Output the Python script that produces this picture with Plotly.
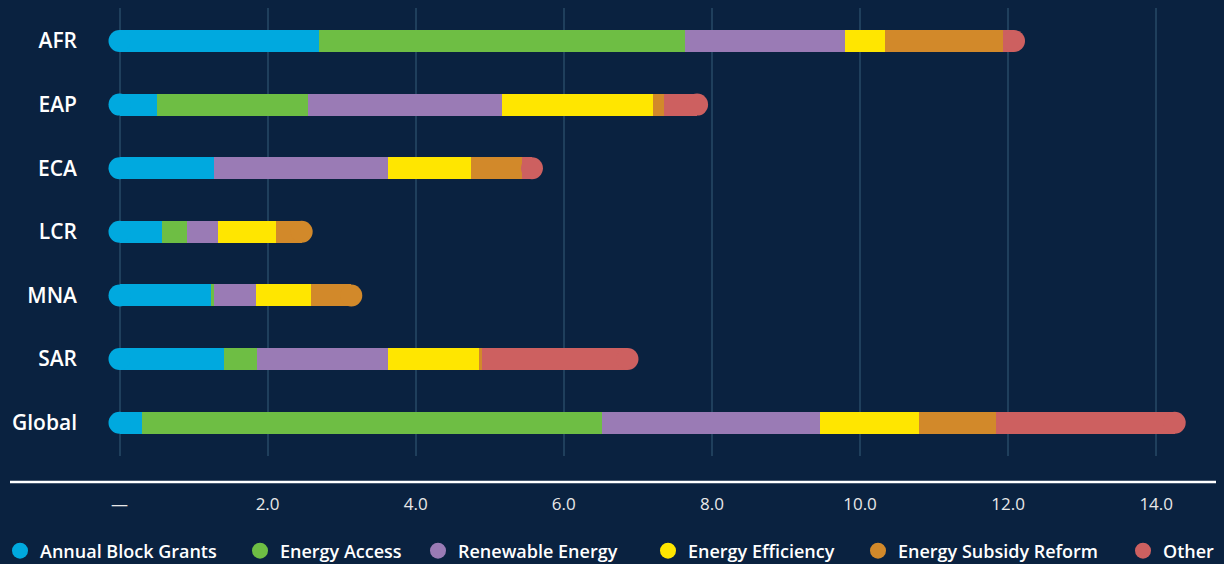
import plotly.graph_objects as go

regions = ["AFR", "EAP", "ECA", "LCR", "MNA", "SAR", "Global"]
series_names = ["Annual Block Grants", "Energy Access", "Renewable Energy",
                "Energy Efficiency", "Energy Subsidy Reform", "Other"]
annual_block_grants = [2.69, 0.50, 1.28, 0.57, 1.24, 1.41, 0.31]
energy_access = [4.94, 2.04, 0.00, 0.34, 0.04, 0.45, 6.21]
renewable_energy = [2.17, 2.63, 2.34, 0.42, 0.56, 1.77, 2.94]
energy_efficiency = [0.54, 2.03, 1.12, 0.79, 0.75, 1.22, 1.34]
energy_subsidy_reform = [1.59, 0.15, 0.69, 0.34, 0.54, 0.05, 1.03]
other = [0.15, 0.45, 0.14, 0.00, 0.00, 1.96, 2.42]
tick_values = [0, 2, 4, 6, 8, 10, 12, 14]
tick_labels = ["—", "2.0", "4.0", "6.0", "8.0", "10.0", "12.0", "14.0"]

colors = ["#00A9DF", "#6EBE44", "#9A7BB5", "#FFE600", "#D2892A", "#CD6060"]
series = [annual_block_grants, energy_access, renewable_energy,
          energy_efficiency, energy_subsidy_reform, other]

BG = "#0A2240"
GRID = "#1F3F5C"
FONT = "Open Sans"
BAR_PX = 22

fig = go.Figure()
for name, vals, col in zip(series_names, series, colors):
    fig.add_trace(go.Bar(
        y=regions, x=vals, orientation="h", name=name,
        marker=dict(color=col, line=dict(width=0)),
        width=0.346, showlegend=False, hoverinfo="x+name",
    ))

# rounded caps at each end of the stacked bar
totals = [sum(s[i] for s in series) for i in range(len(regions))]
first_cols = []
last_cols = []
for i in range(len(regions)):
    nz = [k for k in range(len(series)) if series[k][i] > 0]
    first_cols.append(colors[nz[0]])
    last_cols.append(colors[nz[-1]])

fig.add_trace(go.Scatter(
    x=[0] * len(regions), y=regions, mode="markers",
    marker=dict(size=BAR_PX, color=first_cols, line=dict(width=0)),
    showlegend=False, hoverinfo="skip", cliponaxis=False,
))
fig.add_trace(go.Scatter(
    x=totals, y=regions, mode="markers",
    marker=dict(size=BAR_PX, color=last_cols, line=dict(width=0)),
    showlegend=False, hoverinfo="skip", cliponaxis=False,
))

# legend entries (one legend per item for spacing)
L, W = 100, 1110
legend_px = [0, 240, 418, 648, 858, 1123]
layout_legends = {}
for k, (name, col) in enumerate(zip(series_names, colors)):
    lname = "legend" if k == 0 else f"legend{k + 1}"
    fig.add_trace(go.Scatter(
        x=[None], y=[None], mode="markers", name=name,
        marker=dict(size=16, color=col, symbol="circle"),
        legend=lname, showlegend=True,
    ))
    layout_legends[lname] = dict(
        x=(legend_px[k] - L) / W, xanchor="left",
        y=(456 - 551) / 448, yanchor="middle",
        orientation="h", bgcolor="rgba(0,0,0,0)", borderwidth=0,
        itemsizing="trace",
        font=dict(family=FONT, size=18, color="#FFFFFF", weight=600),
    )

fig.update_layout(
    width=1224, height=564,
    margin=dict(l=100, r=14, t=8, b=108, autoexpand=False),
    paper_bgcolor=BG, plot_bgcolor=BG,
    barmode="stack", bargap=0,
    font=dict(family=FONT, color="#FFFFFF"),
    xaxis=dict(
        range=[(100 - 119.5) / 74.05, (1210 - 119.5) / 74.05],
        tickmode="array", tickvals=tick_values, ticktext=tick_labels,
        showgrid=True, gridcolor=GRID, gridwidth=2, zeroline=False,
        showline=False, ticks="", ticklabelstandoff=36, automargin=False,
        tickfont=dict(family=FONT, size=17, color="#E8E8E8"),
        fixedrange=True,
    ),
    yaxis=dict(
        type="category", categoryorder="array", categoryarray=regions,
        range=[6.524, -0.519], automargin=False,
        showgrid=False, zeroline=False, showline=False, ticks="",
        ticklabelstandoff=22,
        tickfont=dict(family=FONT, size=21, color="#FFFFFF", weight=600),
        fixedrange=True,
    ),
    shapes=[dict(
        type="line", xref="paper", yref="paper",
        x0=(10 - L) / W, x1=(1216 - L) / W,
        y0=(456 - 482) / 448, y1=(456 - 482) / 448,
        line=dict(color="#FFFFFF", width=2.5),
    )],
    **layout_legends,
)

fig.write_html(
    "out.html",
    config={"displayModeBar": False},
    post_script="document.body.style.margin='0';document.body.style.background='%s';" % BG,
)
